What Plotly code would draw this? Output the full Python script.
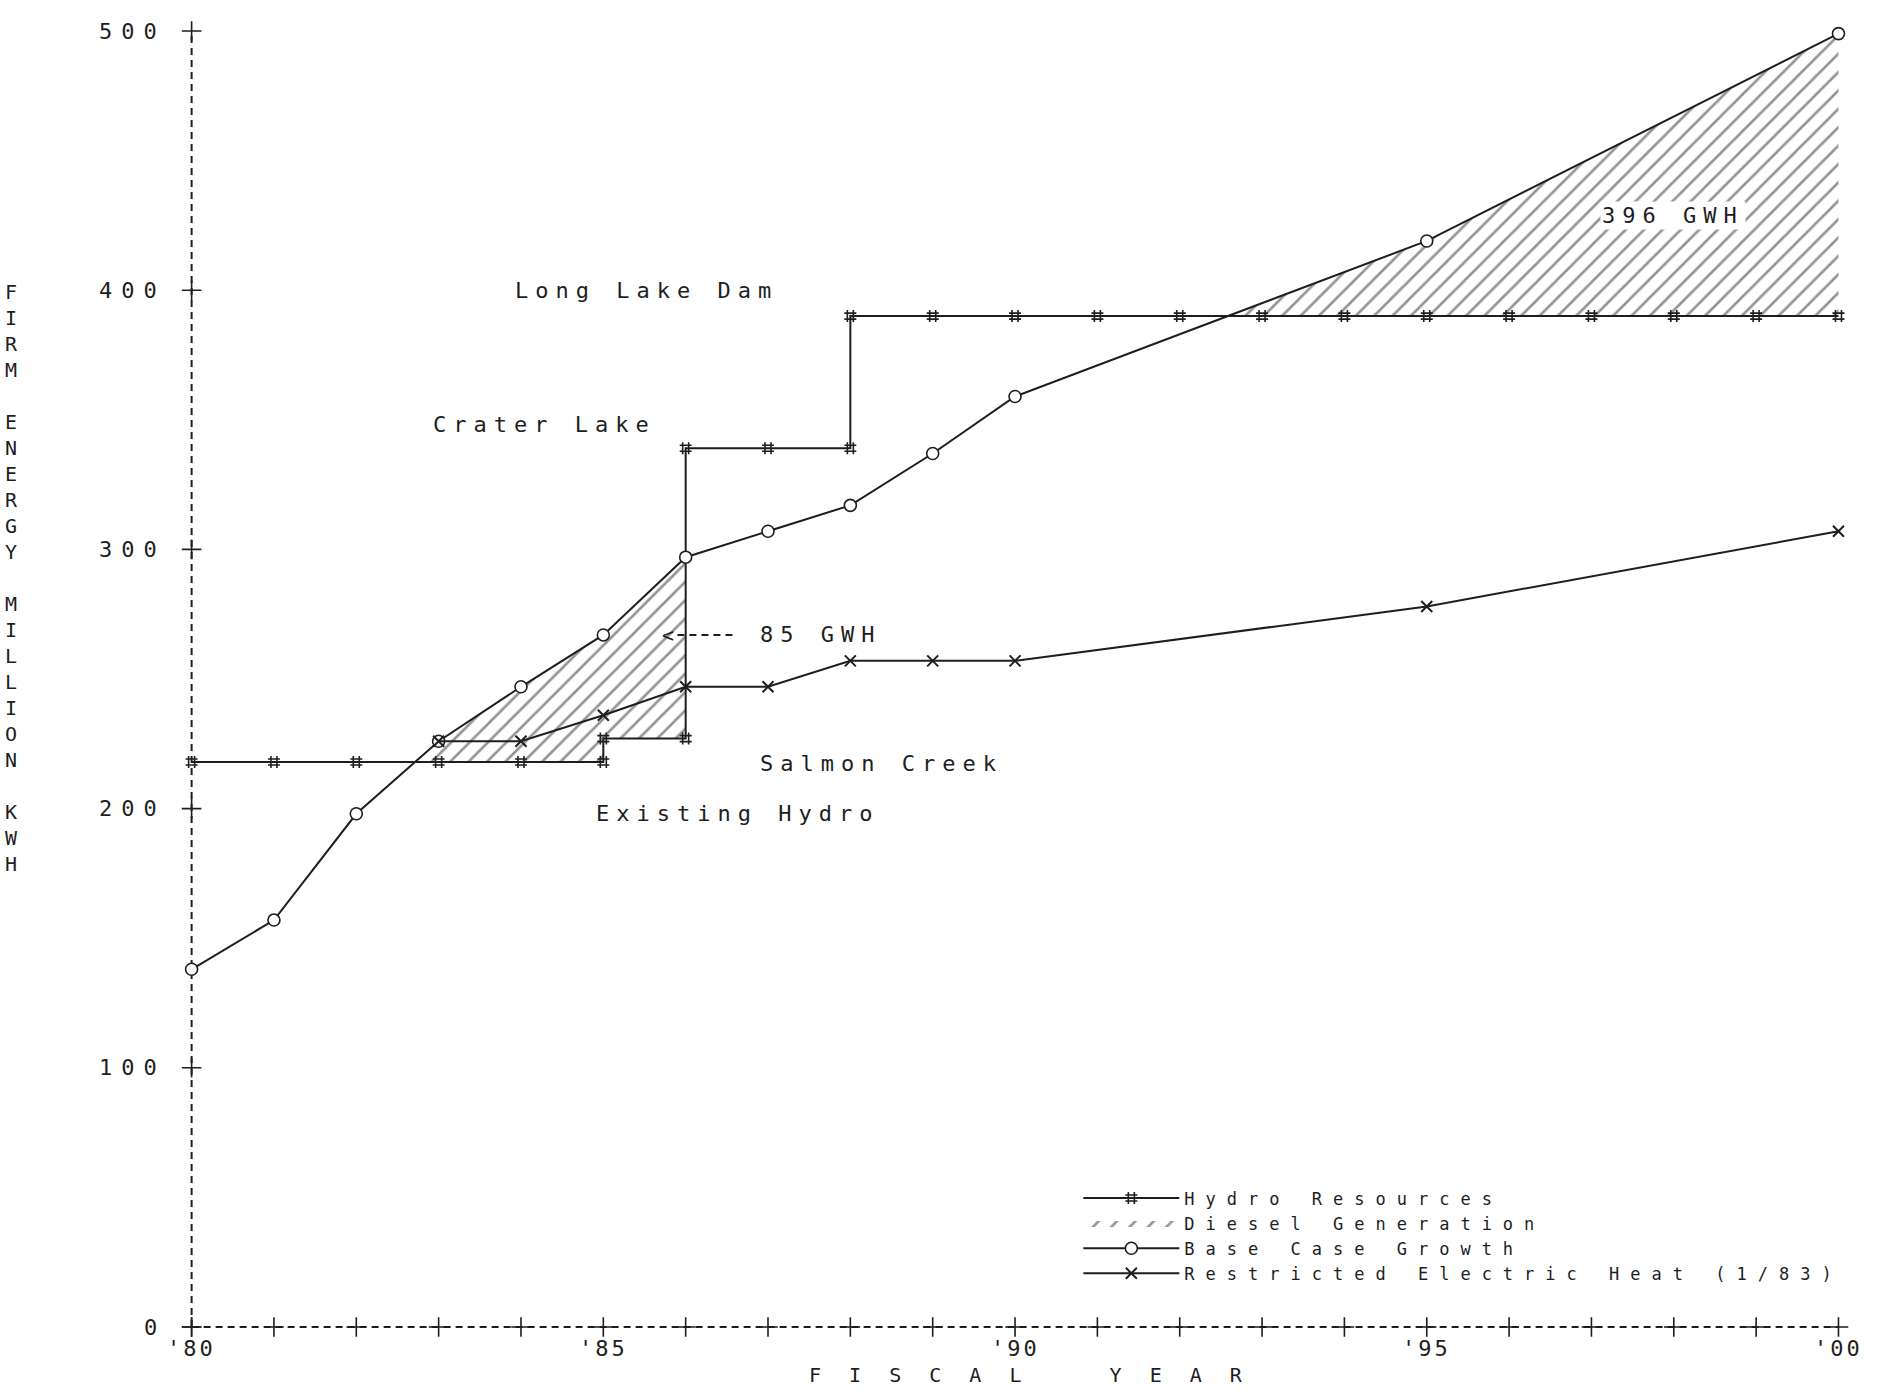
import numpy as np
import plotly.graph_objects as go

# ---------------- data ----------------
base_years = [1980, 1981, 1982, 1983, 1984, 1985, 1986, 1987, 1988, 1989, 1990, 1995, 2000]
base_growth = [138, 157, 198, 226, 247, 267, 297, 307, 317, 337, 359, 419, 499]

restricted_years = [1983, 1984, 1985, 1986, 1987, 1988, 1989, 1990, 1995, 2000]
restricted_heat = [226, 226, 236, 247, 247, 257, 257, 257, 278, 307]

hydro_years = [1980, 1981, 1982, 1983, 1984, 1985,
               1985, 1986,
               1986, 1987, 1988,
               1988, 1989, 1990, 1991, 1992, 1993, 1994, 1995, 1996, 1997, 1998, 1999, 2000]
hydro_resources = [218, 218, 218, 218, 218, 218,
                   227, 227,
                   339, 339, 339,
                   390, 390, 390, 390, 390, 390, 390, 390, 390, 390, 390, 390, 390]

x_tick_years = [1980, 1985, 1990, 1995, 2000]
x_tick_labels = ["'80", "'85", "'90", "'95", "'00"]
x_minor_years = list(range(1980, 2001))
y_tick_values = [0, 100, 200, 300, 400, 500]
y_tick_labels = ["0", "100", "200", "300", "400", "500"]

y_title_letters = list("FIRM") + [" "] + list("ENERGY") + [" "] + list("MILLION") + [" "] + list("KWH")
x_title = "F I S C A L    Y E A R"

FONT = "DejaVu Sans Mono"
INK = "#1e1e1e"


def spaced(text, px):
    return f'<span style="letter-spacing:{px}px">{text}</span>'


# ---------------- diesel generation region (base growth above hydro) ----------------
grid = np.linspace(1980, 2000, 4001)
hx = np.array(hydro_years, dtype=float)
hy = np.array(hydro_resources, dtype=float)
idx = np.searchsorted(hx, grid, side="right") - 1
hydro_step = hy[np.clip(idx, 0, len(hy) - 1)]
base_interp = np.interp(grid, base_years, base_growth)
lower = np.minimum(base_interp, hydro_step)

fig = go.Figure()

fig.add_trace(go.Scatter(
    x=grid, y=lower, mode="lines", line=dict(width=0, color="rgba(0,0,0,0)"),
    showlegend=False, hoverinfo="skip"))
fig.add_trace(go.Scatter(
    x=grid, y=base_interp, mode="lines", line=dict(width=0, color="rgba(0,0,0,0)"),
    fill="tonexty", fillcolor="rgba(0,0,0,0)",
    fillpattern=dict(shape="/", fgcolor="#2a2a2a", bgcolor="rgba(0,0,0,0)", size=13, solidity=0.2),
    name=spaced("Diesel Generation", 11), legendrank=2, hoverinfo="skip"))

# hydro resources
fig.add_trace(go.Scatter(
    x=hydro_years, y=hydro_resources, mode="lines+markers",
    line=dict(color=INK, width=2),
    marker=dict(symbol="hash-open", size=12, color=INK, line=dict(color=INK, width=1.6)),
    name=spaced("Hydro Resources", 11), legendrank=1))

# base case growth
fig.add_trace(go.Scatter(
    x=base_years, y=base_growth, mode="lines+markers",
    line=dict(color=INK, width=2),
    marker=dict(symbol="circle", size=12, color="white", line=dict(color=INK, width=1.6)),
    name=spaced("Base Case Growth", 11), legendrank=3))

# restricted electric heat
fig.add_trace(go.Scatter(
    x=restricted_years, y=restricted_heat, mode="lines+markers",
    line=dict(color=INK, width=2),
    marker=dict(symbol="x-thin", size=11, color=INK, line=dict(color=INK, width=2)),
    name=spaced("Restricted Electric Heat (1/83)", 11), legendrank=4))

# "+" tick crosses along the axes
fig.add_trace(go.Scatter(
    x=x_minor_years + [x_minor_years[0]] * len(y_tick_values),
    y=[0] * len(x_minor_years) + y_tick_values,
    mode="markers",
    marker=dict(symbol="cross-thin", size=14, color=INK, line=dict(color=INK, width=1.6)),
    showlegend=False, hoverinfo="skip", cliponaxis=False))

# dashed axis lines
shapes = [
    dict(type="line", xref="x", yref="y", x0=x_minor_years[0], x1=x_minor_years[-1], y0=0, y1=0,
         line=dict(color=INK, width=2, dash="7px,5px"), layer="below"),
    dict(type="line", xref="x", yref="y", x0=x_minor_years[0], x1=x_minor_years[0], y0=0, y1=y_tick_values[-1],
         line=dict(color=INK, width=2, dash="7px,5px"), layer="below"),
    # pointer for the 85 GWH label
    dict(type="line", xref="x", yref="y", x0=1985.9, x1=1986.6, y0=267, y1=267,
         line=dict(color=INK, width=2, dash="7px,5px")),
]

annotations = []
for v, lab in zip(x_tick_years, x_tick_labels):
    annotations.append(dict(x=v, y=0, xref="x", yref="y", text=spaced(lab, 3), showarrow=False,
                            yshift=-21, xanchor="center", yanchor="middle",
                            font=dict(family=FONT, size=22, color=INK)))
for v, lab in zip(y_tick_values, y_tick_labels):
    annotations.append(dict(x=x_minor_years[0], y=v, xref="x", yref="y", text=spaced(lab, 9), showarrow=False,
                            xshift=-24, xanchor="right", yanchor="middle",
                            font=dict(family=FONT, size=22, color=INK)))

labels = [
    ("Long Lake Dam", 1983.9, 400, None),
    ("Crater Lake", 1982.91, 348, None),
    ("85 GWH", 1986.88, 267, None),
    ("Salmon Creek", 1986.88, 217.5, None),
    ("Existing Hydro", 1984.89, 198, None),
    ("396 GWH", 1997.1, 429, "white"),
]
for txt, x, y, bg in labels:
    a = dict(x=x, y=y, xref="x", yref="y", text=spaced(txt, 7), showarrow=False,
             xanchor="left", yanchor="middle", font=dict(family=FONT, size=22, color=INK))
    if bg:
        a["bgcolor"] = bg
    annotations.append(a)

annotations.append(dict(x=1985.78, y=267, xref="x", yref="y", text="<", showarrow=False,
                        xanchor="center", yanchor="middle", font=dict(family=FONT, size=20, color=INK)))

# axis titles
annotations.append(dict(x=x_minor_years[0], y=289, xref="x", yref="y", xshift=-180,
                        text="<br>".join(c if c != " " else "\u00a0" for c in y_title_letters),
                        showarrow=False, xanchor="center", yanchor="middle",
                        font=dict(family=FONT, size=20, color=INK)))
annotations.append(dict(x=1990.17, y=0, xref="x", yref="y", yshift=-48,
                        text=spaced(x_title.replace(" ", "\u00a0"), 8), showarrow=False,
                        xanchor="center", yanchor="middle",
                        font=dict(family=FONT, size=20, color=INK)))

fig.update_layout(
    width=1878, height=1396,
    margin=dict(l=159, r=7, t=5, b=43),
    paper_bgcolor="white", plot_bgcolor="white",
    showlegend=True,
    legend=dict(x=0.537, y=0.128, xanchor="left", yanchor="top", traceorder="normal",
                bgcolor="rgba(0,0,0,0)", font=dict(family=FONT, size=17, color=INK),
                itemwidth=96, tracegroupgap=0),
    shapes=shapes, annotations=annotations,
    xaxis=dict(range=[1979.604, 2000.395], showgrid=False, zeroline=False, showline=False,
               showticklabels=False, ticks=""),
    yaxis=dict(range=[-10.03, 510.03], showgrid=False, zeroline=False, showline=False,
               showticklabels=False, ticks=""),
)

fig.write_html("out.html", config={"displayModeBar": False},
               post_script="document.body.style.margin='0px';document.body.style.overflow='hidden';")
